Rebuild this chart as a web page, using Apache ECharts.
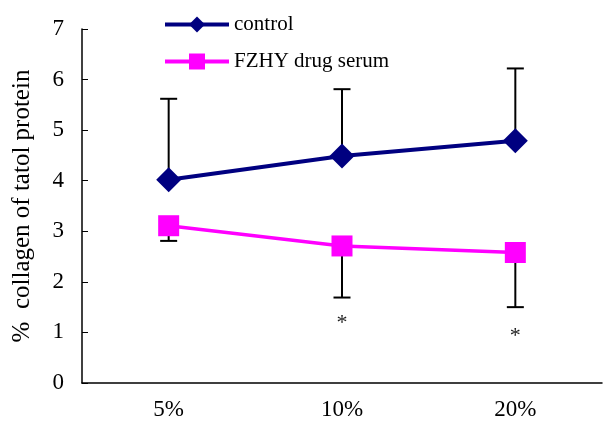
<!DOCTYPE html>
<html><head><meta charset="utf-8">
<script src="https://cdn.jsdelivr.net/npm/echarts@6/dist/echarts.min.js"></script>
<style>html,body{margin:0;padding:0;background:#fff}#c{width:603px;height:429px}</style>
</head><body><div id="c"></div>
<script>
const categories = ['5%', '10%', '20%'];
const controlMean = [4.02, 4.49, 4.79];
const controlUpper = [5.62, 5.81, 6.22];
const fzhyMean = [3.11, 2.71, 2.58];
const fzhyLower = [2.81, 1.69, 1.50];
const starY = [null, 1.19, 0.92];
const yTicks = [0, 1, 2, 3, 4, 5, 6, 7];

const font = 'Liberation Serif';
const chart = echarts.init(document.getElementById('c'));

function errBar(lows, highs) {
  return categories.map((c, i) => [i, lows[i], highs[i]]);
}
function renderErrOneSide(isUp) {
  return function (params, api) {
    const x = api.value(0);
    const lo = api.coord([x, api.value(1)]);
    const hi = api.coord([x, api.value(2)]);
    const half = 8.5;
    const capY = isUp ? hi[1] : lo[1];
    const style = { stroke: '#000', lineWidth: 2, fill: null };
    return { type: 'group', children: [
      { type: 'line', shape: { x1: lo[0], y1: lo[1], x2: hi[0], y2: hi[1] }, style },
      { type: 'line', shape: { x1: lo[0] - half, y1: capY, x2: lo[0] + half, y2: capY }, style }
    ]};
  };
}
function renderStar(params, api) {
  const v = api.value(1);
  if (v == null || isNaN(v)) return null;
  const p = api.coord([api.value(0), v]);
  return { type: 'text', x: p[0], y: p[1], style: {
    text: '*', fontFamily: font, fontSize: 22, fill: '#222', align: 'center', verticalAlign: 'middle' } };
}

chart.setOption({
  animation: false,
  backgroundColor: '#fff',
  grid: { left: 82, right: 1, top: 29, bottom: 46 },
  legend: {
    orient: 'vertical', left: 158, top: 9, itemWidth: 64, itemHeight: 20, itemGap: 16,
    textStyle: { fontFamily: font, fontSize: 21, color: '#000' },
    lineStyle: { width: 4 },
    data: ['control', 'FZHY drug serum']
  },
  xAxis: {
    type: 'category', data: categories, boundaryGap: true,
    axisLine: { lineStyle: { color: '#000', width: 1.5 } },
    axisTick: { inside: true, length: 6, lineStyle: { color: '#000' } },
    axisLabel: { fontFamily: font, fontSize: 23, color: '#000', margin: 15 }
  },
  yAxis: {
    type: 'value', min: yTicks[0], max: yTicks[yTicks.length - 1], interval: 1,
    name: '%  collagen of tatol protein', nameLocation: 'middle', nameGap: 47,
    nameTextStyle: { fontFamily: font, fontSize: 25, color: '#000' },
    splitLine: { show: false },
    axisLine: { show: true, lineStyle: { color: '#000', width: 1.5 } },
    axisTick: { show: true, inside: true, length: 6, lineStyle: { color: '#000' } },
    axisLabel: { fontFamily: font, fontSize: 23, color: '#000', margin: 18 }
  },
  series: [
    { name: 'ctrlErr', type: 'custom', renderItem: renderErrOneSide(true), data: errBar(controlMean, controlUpper), z: 1, silent: true },
    { name: 'fzhyErr', type: 'custom', renderItem: renderErrOneSide(false), data: errBar(fzhyLower, fzhyMean), z: 1, silent: true },
    { name: 'control', type: 'line', data: controlMean, symbol: 'diamond', symbolSize: 25,
      lineStyle: { color: '#000080', width: 4 }, itemStyle: { color: '#000080' }, z: 3 },
    { name: 'FZHY drug serum', type: 'line', data: fzhyMean, symbol: 'rect', symbolSize: 21,
      lineStyle: { color: '#ff00ff', width: 3.5 }, itemStyle: { color: '#ff00ff' }, z: 3 },
    { name: 'stars', type: 'custom', renderItem: renderStar, silent: true,
      data: categories.map((c, i) => [i, starY[i]]) }
  ]
});
</script></body></html>
